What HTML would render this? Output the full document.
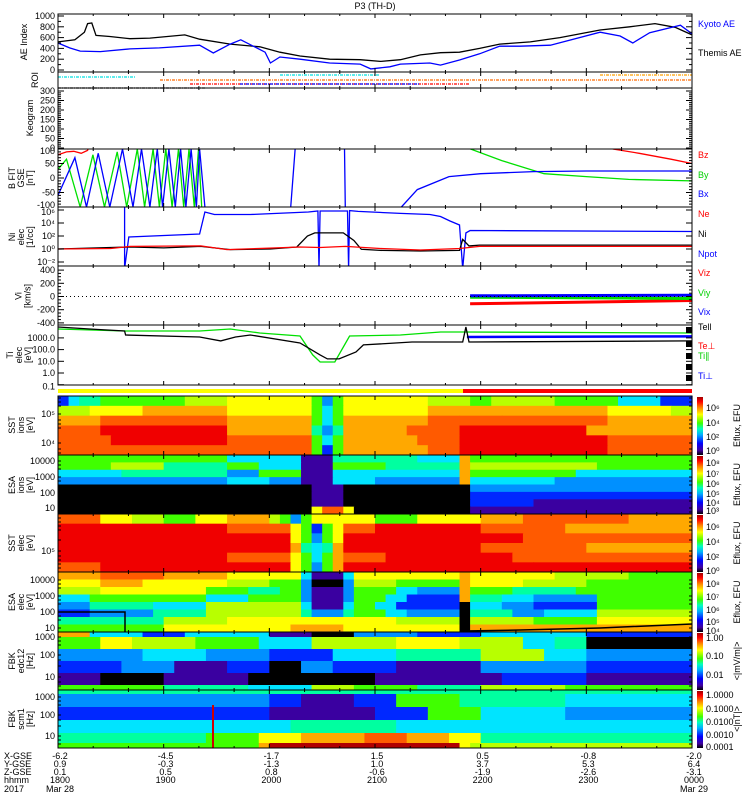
<!DOCTYPE html>
<html><head><meta charset="utf-8"><style>
html,body{margin:0;padding:0;background:#fff;}
svg{display:block;font-family:"Liberation Sans",sans-serif;}
text{font-size:9px;}
</style></head><body>
<svg id="c" width="750" height="800" viewBox="0 0 750 800" xmlns="http://www.w3.org/2000/svg">
<defs>
<linearGradient id="cbar" x1="0" y1="1" x2="0" y2="0">
<stop offset="0" stop-color="#000"/><stop offset="0.08" stop-color="#4000a0"/><stop offset="0.2" stop-color="#0000ff"/><stop offset="0.35" stop-color="#00b0ff"/><stop offset="0.45" stop-color="#00ffc0"/><stop offset="0.55" stop-color="#40ff00"/><stop offset="0.7" stop-color="#ffff00"/><stop offset="0.82" stop-color="#ff8000"/><stop offset="0.92" stop-color="#ff0000"/><stop offset="1" stop-color="#a00000"/>
</linearGradient>
<clipPath id="clipB"><rect x="58" y="149" width="634" height="58"/></clipPath>
<clipPath id="clipN"><rect x="58" y="207" width="634" height="59"/></clipPath>
<clipPath id="clipT"><rect x="58" y="325" width="634" height="60"/></clipPath>
</defs>
<text x="375" y="9" text-anchor="middle" font-size="10">P3 (TH-D)</text>
<g id="spec"></g>
<g id="lines"></g>
<g id="frames"></g>
<g id="labels"></g>
</svg>
<script>
// ---------- DATA ----------
// AE index (time in hours after 18:00 UT)
const aeThemisTime=[0,0.16,0.25,0.28,0.32,0.36,0.49,0.68,0.87,1.2,1.34,1.63,1.91,2.1,2.29,2.57,2.86,3.05,3.24,3.43,3.62,3.8,3.99,4.18,4.47,4.75,5.13,5.41,5.65,5.84,6];
const aeThemis=[520,560,700,860,870,640,620,580,590,650,570,480,430,330,260,200,190,160,190,280,320,330,400,480,520,600,740,800,860,790,650];
const aeKyotoTime=[0,0.11,0.21,0.4,0.68,0.96,1.34,1.47,1.63,1.73,1.96,2.01,2.1,2.29,2.57,2.86,2.96,3.14,3.24,3.52,3.62,3.8,3.99,4.18,4.37,4.66,5.13,5.32,5.44,5.6,5.89,6];
const aeKyoto=[500,410,350,340,390,410,460,315,480,560,330,130,240,200,130,110,20,60,110,130,90,185,300,440,440,460,700,630,500,690,830,670];
// B field FIT (nT); null = data gap
const bxTime=[0,0.16,0.27,0.38,0.49,0.61,0.71,0.79,0.87,0.94,0.99,1.05,1.11,1.16,1.21,1.26,1.31,1.34,1.39,1.4,2.2,2.25,2.5,2.71,2.72,2.8,3.25,3.4,3.7,4.0,4.5,5.0,5.5,6];
const bx=[-60,70,-100,85,-100,100,-100,100,-100,100,-100,100,-100,100,-100,100,-100,100,-100,null,-110,130,null,130,-130,null,-100,-40,5,15,22,24,24,24];
const byTime=[0,0.08,0.21,0.33,0.44,0.56,0.65,0.75,0.82,0.9,0.96,1.02,1.08,1.14,1.19,1.24,1.29,1.33,1.36,1.4,3.83,4.2,4.6,5.0,5.4,6];
const by=[30,65,-100,80,-100,90,-100,100,-100,100,-100,100,-100,100,-100,100,-100,100,-100,null,110,60,15,5,-5,-10];
const bzTime=[0,0.08,0.15,0.22,0.28,0.3,0.31,5.25,5.5,5.8,6];
const bz=[80,90,92,85,95,120,null,100,85,65,50];
// densities (1/cc)
const neTime=[0,0.5,0.68,1.35,1.6,2.0,2.29,2.48,2.72,3.05,3.43,3.8,3.99,6];
const ne=[1,1.2,2.5,3,0.8,1.4,2,1.7,2.5,1.2,0.7,1.2,2.5,2.5];
const niTime=[0,0.68,1.0,1.35,1.63,2.01,2.26,2.36,2.43,2.7,2.8,2.87,3.05,3.43,3.8,3.83,3.89,3.99,6];
const ni=[1,2,1.5,2.5,0.8,1,2,100,300,300,20,0.9,0.6,0.5,0.6,30,3,4,4];
const npTime=[0.63,0.63,0.67,1.34,1.39,1.48,1.82,2.37,2.46,2.47,2.48,2.74,2.75,2.76,2.84,3.24,3.52,3.62,3.71,3.8,3.83,3.86,3.9,6];
const np=[1e7,1e-3,70,200,5e5,2e5,2e5,5e5,7e5,1e-3,7e5,7e5,1e-3,8e5,6e5,3e5,2e5,1e5,2e4,5000,1e-3,300,700,500];
// ion velocity (km/s)
const viTime=[3.9,6];
const vix=[10,20];
const viy=[-10,-30];
const viz=[-110,-60];
// temperatures (eV)
const teTime=[0,0.3,0.63,0.64,1.34,1.54,1.68,1.82,2.29,2.48,2.55,2.66,2.82,2.89,3.35,3.83,3.86,3.89,6];
const te=[8500,5800,3900,1780,1200,550,1200,1780,365,35,16,16,62,250,445,445,8500,445,550];
const tiTime=[0,0.63,1.34,1.63,1.91,2.29,2.41,2.48,2.62,2.76,3.24,3.62,3.83,6];
const tip=[5800,3900,3900,5800,2600,1450,35,8.7,8.7,1450,1780,3200,3200,2600];
const tiPerpTime=[3.87,6];
const tiPerp=[1200,1350];
// spectrogram matrices (run-length: level:count over 60 time bins; rows top->bottom)
const sstIon=["2:1,4:1,5:2,6:8,7:4,8:8,6:1,3:1,6:1,8:8,7:4,6:2,7:6,6:6,4:4,2:3","7:3,8:5,9:8,8:8,6:1,4:1,6:1,8:8,9:5,9:2,9:10,8:6,7:2","9:4,a:12,9:8,6:1,4:1,6:1,9:8,a:3,a:4,a:10,9:8","a:4,b:12,9:8,5:1,3:1,5:1,9:6,a:5,b:12,9:10","a:5,b:11,a:8,6:1,4:1,6:1,9:7,a:4,b:14,a:8","a:16,a:8,6:1,2:1,6:1,9:8,a:3,b:14,a:8"];
const esaIon=["6:16,4:7,1:3,5:8,4:4,9:1,6:21","6:5,7:5,5:6,6:3,4:4,1:3,6:5,5:7,9:1,7:12,6:9","4:6,5:10,3:3,6:4,1:3,4:12,9:1,6:10,4:11","3:16,4:4,3:3,1:3,4:4,3:8,9:1,4:8,3:13","0:24,1:3,0:12,3:21","0:24,1:3,0:12,2:21","0:24,1:3,0:12,2:6,1:15","0:24,8:1,a:2,8:1,0:11,1:21"];
const sstEle=["a:4,8:3,7:3,6:3,8:3,9:4,7:1,6:1,3:1,6:1,8:6,6:4,8:6,9:4,a:10,9:6","b:16,a:6,8:1,6:1,2:1,6:1,8:1,a:3,b:10,a:8,9:12","b:22,8:1,6:1,3:1,6:1,8:1,b:17,a:16","b:22,9:1,5:1,4:1,5:1,9:1,b:13,a:10,9:10","b:16,a:6,8:1,6:1,4:1,6:1,9:1,a:4,b:12,a:17","a:4,b:18,8:1,6:1,3:1,6:1,9:1,b:18,b:15"];
const esaEle=["9:4,a:6,9:6,8:7,4:1,1:3,4:1,8:10,9:1,8:8,7:7,6:6","8:4,9:4,8:8,7:4,6:3,3:1,0:3,3:1,7:4,6:6,9:1,8:5,7:6,6:10","7:4,8:10,6:4,5:3,6:2,3:1,1:3,3:1,6:4,4:2,3:4,9:1,6:4,5:6,6:11","4:3,6:11,4:4,6:5,3:1,1:3,3:1,6:3,4:2,2:5,9:1,5:3,4:3,3:6,6:9","3:3,5:6,4:5,7:9,4:1,1:3,4:1,6:2,4:2,2:6,0:1,4:3,3:3,2:6,6:9","2:3,3:6,5:5,7:9,5:1,3:3,5:1,6:3,4:2,3:5,0:1,5:4,3:3,4:5,7:9","5:10,7:6,8:7,8:5,8:4,7:6,0:1,7:6,6:6,8:9","6:10,8:12,9:5,8:11,0:1,9:21"];
const fbkE=["9:3,4:5,2:4,4:8,1:4,0:4,3:6,2:6,4:10,2:10","6:4,8:3,7:6,6:6,4:5,7:8,8:6,7:6,4:3,5:3,0:10","3:8,4:6,3:6,2:4,2:2,4:6,5:8,7:6,4:4,3:10","2:6,3:5,1:5,2:4,0:3,3:3,2:6,1:8,3:10,2:10","1:4,0:6,1:8,0:12,1:6,1:6,2:8,1:10","6:10,5:8,4:6,7:4,6:6,5:6,7:8,6:12"];
const fbkB=["5:60","3:20,2:3,1:5,2:4,6:6,5:10,4:12","2:20,1:10,2:5,6:5,4:8,3:12","4:22,5:10,4:28","5:14,6:5,8:4,9:6,a:4,9:4,8:3,5:20","6:19,9:1,c:18,8:1,7:21"];

// ---------- SCALES ----------
const NS="http://www.w3.org/2000/svg";
const X0=58,X1=692;
const xT=t=>X0+t*(X1-X0)/6;
const yAE=v=>70-0.054*v;
const yB=v=>178-0.29*v;
const yN=n=>249-6.5*Math.log10(n);
const yV=v=>296.5-0.066*v;
const yT=T=>373-11.7*Math.log10(T);
const pal={"0":"#000000","1":"#3a00a0","2":"#0028ff","3":"#0090ff","4":"#00e4ff","5":"#00ffa0","6":"#40ff00","7":"#b8ff00","8":"#ffff00","9":"#ffa800","a":"#ff5a00","b":"#f00000","c":"#b00000"};
function mk(tag,attrs,parent){const e=document.createElementNS(NS,tag);for(const k in attrs)e.setAttribute(k,attrs[k]);(parent||document.getElementById('c')).appendChild(e);return e;}
const gS=document.getElementById('spec'),gL=document.getElementById('lines'),gF=document.getElementById('frames'),gT=document.getElementById('labels');

function spectro(rows,y0,heights,name){
  const g=mk('g',{},gS);
  
  
  const cw=(X1-X0)/60;let y=y0;
  rows.forEach((r,ri)=>{
    let c=0;const h=heights[ri];
    r.split(',').forEach(seg=>{const [lv,n]=seg.split(':');const cnt=+n;
      const rc=mk('rect',{x:(X0+c*cw).toFixed(2),y:y.toFixed(2),width:(cnt*cw+0.6).toFixed(2),height:(h+0.5).toFixed(2),fill:pal[lv]},g);
      
      
      c+=cnt;});
    y+=h;});
}
const eq=(n,h)=>Array(n).fill(h);
spectro(sstIon,396,eq(6,59/6),'sst-ion-spectrogram');
spectro(esaIon,455,eq(8,59/8),'esa-ion-spectrogram');
spectro(sstEle,514,eq(6,58/6),'sst-electron-spectrogram');
spectro(esaEle,572,eq(8,60/8),'esa-electron-spectrogram');
spectro(fbkE,632,[5,12,12,12,12,5],'fbk-edc12-spectrogram');
spectro(fbkB,690,[4,13,13,13,10,5],'fbk-scm-spectrogram');
let e=mk('line',{x1:213,y1:705,x2:213,y2:748,stroke:'#d00000','stroke-width':2},gS);


e=mk('polyline',{points:'58,612 125,612 125,632',fill:'none',stroke:'#000','stroke-width':1.5},gS);


e=mk('polyline',{points:'463,631 520,630 600,628 692,624',fill:'none',stroke:'#000','stroke-width':1.5},gS);



function line(ts,vs,yf,color,name,clip){
  let d='',pen=false;
  ts.forEach((t,i)=>{const v=vs[i];if(v===null){pen=false;return;}
    d+=(pen?'L':'M')+xT(t).toFixed(1)+','+yf(v).toFixed(1)+' ';pen=true;});
  const p=mk('path',{d:d,fill:'none',stroke:color,'stroke-width':1.3},gL);
  if(clip)p.setAttribute('clip-path','url(#'+clip+')');
  
  
  return p;
}
line(aeThemisTime,aeThemis,yAE,'#000','themis-ae-line');
line(aeKyotoTime,aeKyoto,yAE,'#0000ff','kyoto-ae-line');
line(bzTime,bz,yB,'#ff0000','bz-line','clipB');
line(byTime,by,yB,'#00e000','by-line','clipB');
line(bxTime,bx,yB,'#0000ff','bx-line','clipB');
line(npTime,np,yN,'#0000ff','npot-line','clipN');
line(niTime,ni,yN,'#000','ni-line','clipN');
line(neTime,ne,yN,'#ff0000','ne-line','clipN');
line(viTime,viz,yV,'#ff0000','viz-line').setAttribute('stroke-width',3);
line(viTime,viy,yV,'#00e000','viy-line').setAttribute('stroke-width',3);
line(viTime,vix,yV,'#0000ff','vix-line').setAttribute('stroke-width',3);
line(tiTime,tip,yT,'#00e000','ti-par-line','clipT');
line(tiPerpTime,tiPerp,yT,'#0000ff','ti-perp-line','clipT').setAttribute('stroke-width',2.5);
line(teTime,te,yT,'#000','te-line','clipT');
e=mk('line',{x1:58,y1:296.5,x2:692,y2:296.5,stroke:'#000','stroke-dasharray':'1,3'},gL);


[[58,135,77,'#00e0e0'],[280,380,75,'#00e0e0'],[160,692,80,'#ff6a00'],[600,692,75,'#ffa000'],[190,470,84,'#ff0000'],[240,420,84,'#0000ff'],[58,205,88,'#000']].forEach(r=>{
  const l=mk('line',{x1:r[0],x2:r[1],y1:r[2],y2:r[2],stroke:r[3],'stroke-dasharray':'3,1,1,1','stroke-width':1.3},gL);
  
  
});
e=mk('rect',{x:58,y:389,width:405,height:4,fill:'#ffff00'},gL);


e=mk('rect',{x:463,y:389,width:229,height:4,fill:'#ff0000'},gL);



const panels=[[14,72,'ae-panel'],[72,88,'roi-panel'],[88,149,'keogram-panel'],[149,207,'bfield-panel'],[207,266,'density-panel'],[266,325,'velocity-panel'],[325,385,'temperature-panel'],[396,455,'sst-ion-panel'],[455,514,'esa-ion-panel'],[514,572,'sst-electron-panel'],[572,632,'esa-electron-panel'],[632,690,'fbk-e-panel'],[690,748,'fbk-b-panel']];
panels.forEach(p=>{
  const r=mk('rect',{x:X0,y:p[0],width:X1-X0,height:p[1]-p[0],fill:'none',stroke:'#000','stroke-width':1},gF);
  
  
  for(let k=1;k<18;k++){const x=X0+k*(X1-X0)/18;const len=(k%3==0)?4:2;
    mk('line',{x1:x,x2:x,y1:p[0],y2:p[0]+len,stroke:'#000'},gF);mk('line',{x1:x,x2:x,y1:p[1],y2:p[1]-len,stroke:'#000'},gF);}
});
function ticks(ys,major){ys.forEach(y=>{mk('line',{x1:X0,x2:X0+(major?6:3),y1:y,y2:y,stroke:'#000'},gF);mk('line',{x1:X1,x2:X1-(major?6:3),y1:y,y2:y,stroke:'#000'},gF);});}
function txt(s,x,y,opts){const t=mk('text',Object.assign({x:x,y:y},opts||{}),gT);t.textContent=s;return t;}
function ylab(list,name){list.forEach(l=>{const t=txt(l[0],55,l[1]+3,{'text-anchor':'end','font-size':'9.5'});});}
const aeTicks=[0,200,400,600,800,1000];
ylab(aeTicks.map(v=>[String(v),yAE(v)]),'ae-tick-label');ticks(aeTicks.map(yAE),true);
ticks([100,300,500,700,900].map(yAE),false);
const keoTicks=[0,50,100,150,200,250,300];
ylab(keoTicks.map(v=>[String(v),148-v*0.19]),'keogram-tick-label');
for(let v=0;v<=300;v+=10)ticks([148-v*0.19],v%50==0);
ylab([['100',yB(100)+2],['50',yB(50)],['0',yB(0)],['-50',yB(-50)],['-100',yB(-100)-2]],'b-tick-label');
for(let v=-100;v<=100;v+=10)ticks([yB(v)],v%50==0);
ylab([['10⁶',yN(1e6)+2],['10⁴',yN(1e4)],['10²',yN(1e2)],['10⁰',yN(1)],['10⁻²',yN(1e-2)]],'density-tick-label');
[1e-2,1e0,1e2,1e4,1e6].forEach(v=>ticks([yN(v)],true));
ylab([['400',yV(400)],['200',yV(200)],['0',yV(0)],['-200',yV(-200)],['-400',yV(-400)]],'velocity-tick-label');
for(let v=-400;v<=400;v+=50)ticks([yV(v)],v%200==0);
ylab([['1000.0',yT(1000)],['100.0',yT(100)],['10.0',yT(10)],['1.0',yT(1)],['0.1',yT(0.1)+2]],'temperature-tick-label');
[0.1,1,10,100,1000].forEach(v=>ticks([yT(v)],true));
[330,344,356,367,378].forEach(y=>mk('rect',{x:686,y:y-3,width:6,height:6,fill:'#000'},gF));
ylab([['10⁵',414],['10⁴',443]],'sst-ion-tick-label');
ylab([['10000',461],['1000',477],['100',493],['10',508]],'esa-ion-tick-label');
ylab([['10⁵',551]],'sst-electron-tick-label');
ylab([['10000',580],['1000',596],['100',612],['10',628]],'esa-electron-tick-label');
ylab([['1000',637],['100',655],['10',677]],'fbk-e-tick-label');
ylab([['1000',697],['100',715],['10',736]],'fbk-b-tick-label');
[398,402,406,414,420,424,428,443,449,453, 461,465,469,477,481,485,493,497,501,508,512, 518,522,526,530,540,551,556,560,564,568, 580,584,588,596,600,604,612,616,620,628, 637,641,645,655,660,666,677,682,686, 697,701,705,715,720,726,736,740,744].forEach(y=>ticks([y],false));

function vt(lines,cx,cy,name){lines.forEach((s,i)=>{const x=cx+i*9-(lines.length-1)*4.5;const t=txt(s,x,cy,{'text-anchor':'middle','font-size':'9.5',transform:`rotate(-90 ${x} ${cy})`});});}
vt(['AE Index'],27,42,'ae-axis-title');
vt(['ROI'],38,80,'roi-axis-title');
vt(['Keogram'],33,118,'keogram-axis-title');
vt(['B FIT','GSE','[nT]'],24,178,'b-axis-title');
vt(['Ni','elec','[1/cc]'],24,237,'density-axis-title');
vt(['Vi','[km/s]'],26,296,'velocity-axis-title');
vt(['Ti','elec','[eV]'],22,355,'temperature-axis-title');
vt(['SST','ions','[eV]'],24,425,'sst-ion-axis-title');
vt(['ESA','ions','[eV]'],24,485,'esa-ion-axis-title');
vt(['SST','elec','[eV]'],24,543,'sst-electron-axis-title');
vt(['ESA','elec','[eV]'],24,602,'esa-electron-axis-title');
vt(['FBK','edc12','[Hz]'],24,661,'fbk-e-axis-title');
vt(['FBK','scm1','[Hz]'],24,719,'fbk-b-axis-title');

[['Kyoto AE',27,'#0000ff','legend-kyoto-ae'],['Themis AE',56,'#000','legend-themis-ae'],['Bz',158,'#ff0000','legend-bz'],['By',178,'#00d000','legend-by'],['Bx',197,'#0000ff','legend-bx'],['Ne',217,'#ff0000','legend-ne'],['Ni',237,'#000','legend-ni'],['Npot',257,'#0000ff','legend-npot'],['Viz',276,'#ff0000','legend-viz'],['Viy',296,'#00d000','legend-viy'],['Vix',315,'#0000ff','legend-vix'],['Tell',330,'#000','legend-tell'],['Te⊥',349,'#ff0000','legend-te-perp'],['Ti∥',359,'#00d000','legend-ti-par'],['Ti⊥',379,'#0000ff','legend-ti-perp']].forEach(l=>{const t=txt(l[0],698,l[1],{fill:l[2],'font-size':'9.5'});});

[[396,455,[['10⁶',408],['10⁴',423],['10²',437],['10⁰',451]],'Eflux, EFU'],[455,514,[['10⁸',463],['10⁷',474],['10⁶',484],['10⁵',494],['10⁴',503],['10³',511]],'Eflux, EFU'],[514,572,[['10⁶',527],['10⁴',542],['10²',557],['10⁰',571]],'Eflux, EFU'],[572,632,[['10⁸',584],['10⁷',597],['10⁶',610],['10⁵',622],['10⁴',631]],'Eflux, EFU'],[632,690,[['1.00',638],['0.10',656],['0.01',675]],'<|mV/m|>'],[690,748,[['1.0000',695],['0.1000',709],['0.0100',722],['0.0010',735],['0.0001',747]],'<|nT|>']].forEach((cb,i)=>{
  const r=mk('rect',{x:697,y:cb[0]+1,width:6,height:cb[1]-cb[0]-1,fill:'url(#cbar)'},gF);
  
  
  cb[2].forEach(l=>{const t=txt(l[0],706,l[1]+3,{'font-size':'9'});});
  const cy=(cb[0]+cb[1])/2;const t=txt(cb[3],740,cy,{'text-anchor':'middle','font-size':'9',transform:`rotate(-90 740 ${cy})`});
  
  
});

const ephX=['-6.2','-4.5','-1.7','1.5','0.5','-0.8','-2.0'];
const ephY=['0.9','-0.3','-1.3','1.0','3.7','5.3','6.4'];
const ephZ=['0.1','0.5','0.8','-0.6','-1.9','-2.6','-3.1'];
const hhmm=['1800','1900','2000','2100','2200','2300','0000'];
const rowY=[759,767,775,783,792];
[['X-GSE',0],['Y-GSE',1],['Z-GSE',2],['hhmm',3],['2017',4]].forEach(r=>{const t=txt(r[0],4,rowY[r[1]],{'font-size':'9'});});
[ephX,ephY,ephZ,hhmm].forEach((arr,ri)=>arr.forEach((s,i)=>{const t=txt(s,xT(i)+2,rowY[ri],{'text-anchor':'middle','font-size':'9'});}));
e=txt('Mar 28',60,792,{'text-anchor':'middle','font-size':'9'});


e=txt('Mar 29',694,792,{'text-anchor':'middle','font-size':'9'});


</script>
</body></html>
